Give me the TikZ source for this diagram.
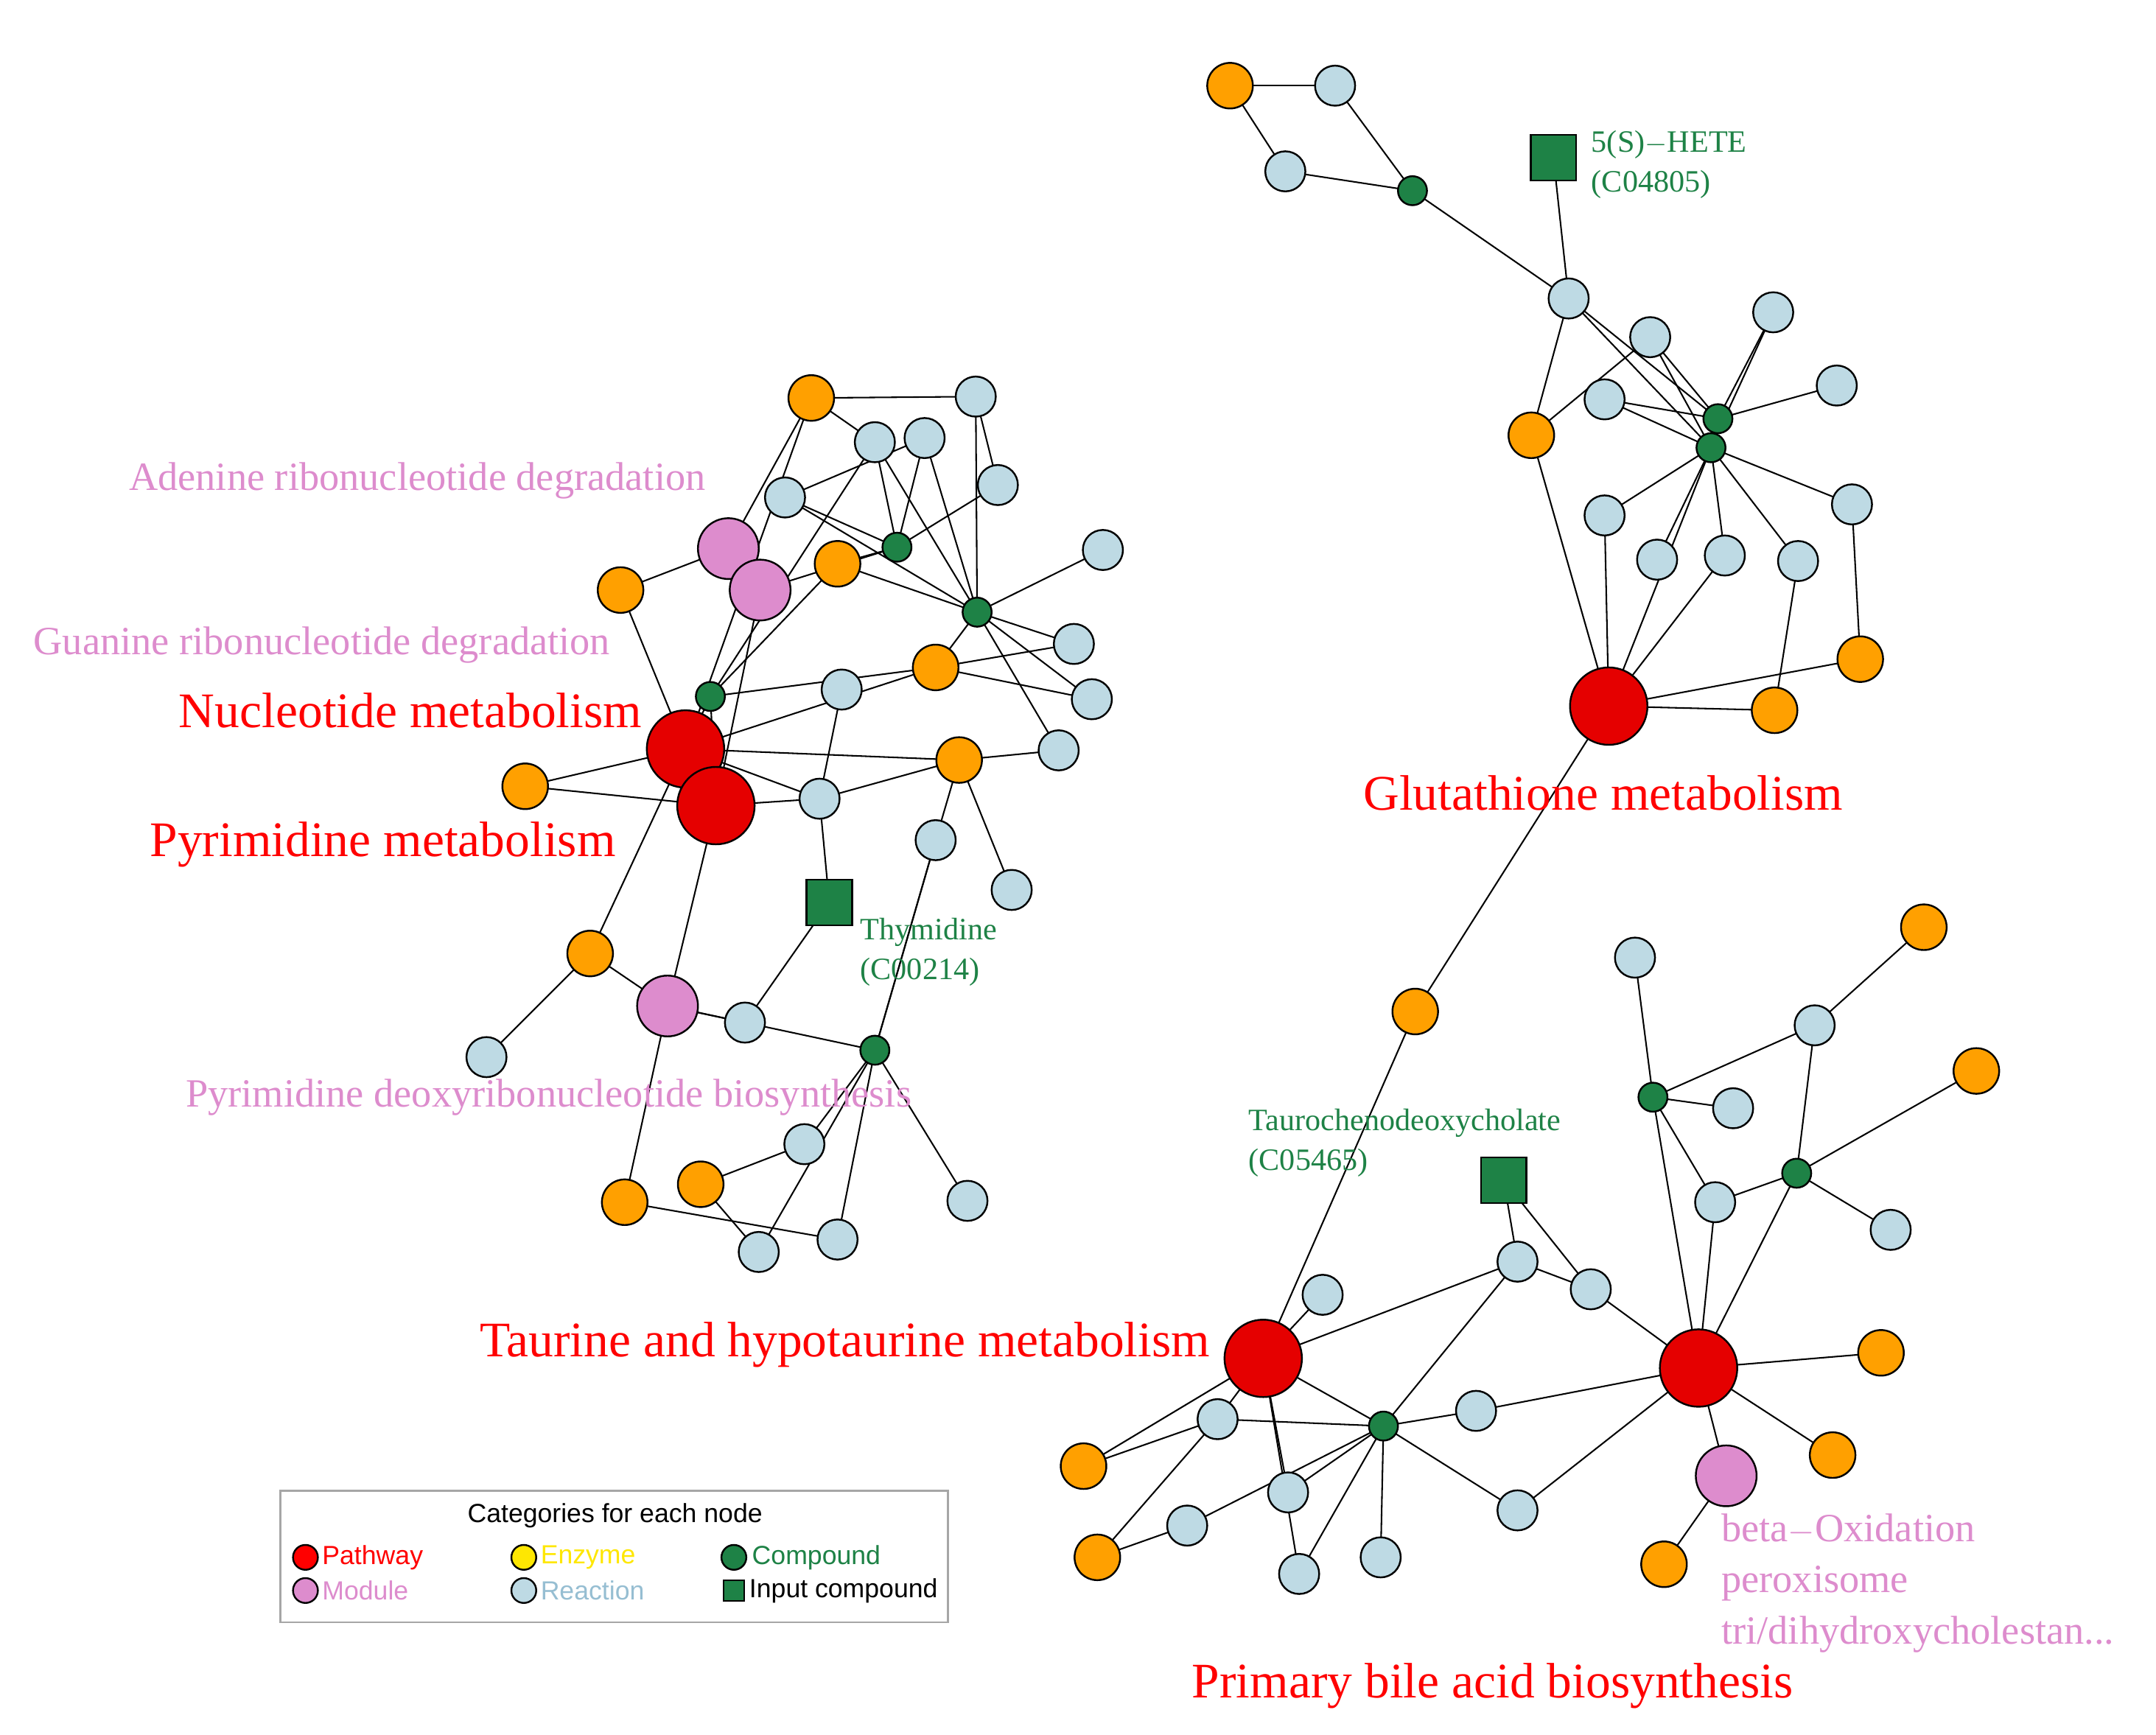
\documentclass[tikz,border=0pt]{standalone}
\usepackage{fontspec}
\setmainfont{Liberation Serif}
\newfontfamily\legfont{Liberation Sans}
\begin{document}
\begin{tikzpicture}[x=1pt,y=-1pt,
 base/.style={circle,draw=black,line width=1.3pt,inner sep=0pt},
 P/.style={base,fill=red!90!black,minimum size=56pt},
 M/.style={base,minimum size=44pt,fill={rgb,255:red,221;green,140;blue,205}},
 E/.style={base,fill={rgb,255:red,255;green,160;blue,0},minimum size=33pt},
 R/.style={base,fill={rgb,255:red,190;green,218;blue,228},minimum size=29pt},
 C/.style={base,fill={rgb,255:red,30;green,130;blue,70},minimum size=21pt},
 S/.style={rectangle,draw=black,line width=1.3pt,fill={rgb,255:red,30;green,130;blue,70},minimum size=33pt,inner sep=0pt},
 ed/.style={line width=1.1pt},
 plab/.style={text=red,font=\fontsize{36}{38}\selectfont},
 mlab/.style={text={rgb,255:red,221;green,140;blue,205},font=\fontsize{29}{37}\selectfont},
 clab/.style={text={rgb,255:red,30;green,130;blue,70},font=\fontsize{22.5}{29}\selectfont,align=left,anchor=west}]
\useasboundingbox (0,0) rectangle (1560,1255.5);
\foreach \n/\x/\y in {
o1/890/62,r1/966/62,r2/930/124,c1/1022/138,sq1/1124/114,r3/1135/216,r4/1194/244,r5/1283/226,r6/1161/289,r7/1329/279,c2/1243/303,c3/1238/324,o2/1108/315,r8/1161/373,r9/1340/365,r10/1199/405,r11/1248/402,r12/1301/406,pg/1164/511,o3/1346/477,o4/1284/514,
o5/587/288,r13/706/287,r14/633/320,r15/669/317,r16/722/351,r17/568/360,c4/649/396,m1/527/397,m2/550/427,o6/606/408,o7/449/427,r18/798/398,c5/707/443,r19/777/466,o8/677/483,r20/609/499,c6/514/504,r21/790/506,pn/496/542,r22/766/543,o9/694/550,pp/518/583,o10/380/569,r23/593/578,r24/677/608,sq2/600/653,r25/732/644,o11/427/690,m3/483/728,r26/539/740,c7/633/760,r27/352/765,r28/582/828,o12/452/870,o13/507/857,r29/700/869,r30/549/906,r31/606/897,
o14/1024/732,r32/1183/693,o15/1392/671,r33/1313/742,o16/1430/775,c8/1196/794,r34/1254/802,c9/1300/849,sq3/1088/854,r35/1241/870,r36/1368/890,r37/1098/913,r38/1151/933,r39/957/937,pt/914/983,pb/1229/990,o17/1361/979,r40/1068/1021,r41/881/1027,c10/1001/1032,o18/784/1061,o19/1326/1053,m4/1249/1068,r42/1098/1093,r43/932/1080,r44/859/1104,o20/794/1127,r45/940/1139,r46/999/1127,o21/1204/1132}
 \coordinate (\n) at (\x,\y);
\begin{scope}[ed]
\foreach \a/\b in {o1/r1,o1/r2,r1/c1,r2/c1,c1/r3,sq1/r3,r3/o2,r3/c2,r3/c3,r4/c3,r5/c3,r6/c2,r6/c3,r7/c2,c3/r8,c3/r9,c3/r10,c3/r11,c3/r12,c2/r4,c2/r5,o2/pg,r8/pg,c3/pg,r9/o3,pg/o3,pg/o4,r12/o4,r4/o2,r11/pg,
o5/r13,o5/r14,o5/m1,o5/pn,r13/c5,r14/c4,r15/c4,r15/c5,r14/c5,r16/c4,r17/c4,r17/c5,c4/o6,c4/m2,r18/c5,c5/r19,c5/r21,c5/r22,c5/o8,c5/o6,o8/r19,o8/r21,o8/pn,c6/o6,c6/r14,c6/pn,c6/pp,c6/o8,m1/o7,m2/pp,o7/pn,pn/o9,pn/r23,pn/o10,pp/o10,pp/r23,r23/o9,r23/r20,r23/sq2,o9/r22,o9/r25,o9/r24,r24/c7,pn/o11,pp/m3,o11/r27,o11/m3,m3/o12,m3/r26,m3/c7,sq2/r26,c7/r28,c7/r29,c7/r30,c7/r31,c7/r24,r28/o13,o12/r31,o13/r30,r16/r13,r17/r15,
o14/pg,o14/pt,r32/c8,c8/r33,r33/o15,c8/r34,c8/r35,c8/pb,c9/o16,c9/r33,c9/r35,c9/r36,c9/pb,r35/pb,sq3/r37,sq3/r38,r37/c10,r37/r38,r38/pb,pb/r40,pb/o17,pb/o19,pb/m4,pt/r39,pt/r41,pt/c10,pt/o18,pt/r43,c10/r40,c10/r41,c10/r42,c10/r43,c10/r44,c10/r45,c10/r46,r41/o18,r44/o20,r41/o20,r45/pt,r42/pb,m4/o21,r37/pt}
 \draw (\a) -- (\b);
\end{scope}
\foreach \n/\s in {o1/E,r1/R,r2/R,c1/C,sq1/S,r3/R,r4/R,r5/R,r6/R,r7/R,c2/C,c3/C,o2/E,r8/R,r9/R,r10/R,r11/R,r12/R,pg/P,o3/E,o4/E,
o5/E,r13/R,r14/R,r15/R,r16/R,r17/R,c4/C,m1/M,m2/M,o6/E,o7/E,r18/R,c5/C,r19/R,o8/E,r20/R,c6/C,r21/R,pn/P,r22/R,o9/E,pp/P,o10/E,r23/R,r24/R,sq2/S,r25/R,o11/E,m3/M,r26/R,c7/C,r27/R,r28/R,o12/E,o13/E,r29/R,r30/R,r31/R,
o14/E,r32/R,o15/E,r33/R,o16/E,c8/C,r34/R,c9/C,sq3/S,r35/R,r36/R,r37/R,r38/R,r39/R,pt/P,pb/P,o17/E,r40/R,r41/R,c10/C,o18/E,o19/E,m4/M,r42/R,r43/R,r44/R,o20/E,r45/R,r46/R,o21/E}
 \node[\s] (n\n) at (\n) {};
% labels
\node[clab] (l1) at (1148,119) {5(S)$-$HETE\\(C04805)};
\node[clab] (l2) at (619,689) {Thymidine\\(C00214)};
\node[clab] (l3) at (900,827) {Taurochenodeoxycholate\\(C05465)};
\node[plab,anchor=east] (l4) at (468,514) {Nucleotide metabolism};
\node[plab,anchor=east] (l5) at (449,611) {Pyrimidine metabolism};
\node[plab] (l6) at (1160,574) {Glutathione metabolism};
\node[plab,anchor=east] (l7) at (879,973) {Taurine and hypotaurine metabolism};
\node[plab] (l8) at (1080,1220) {Primary bile acid biosynthesis};
\node[mlab,anchor=east] (l9) at (514,348) {Adenine ribonucleotide degradation};
\node[mlab,anchor=east] (l10) at (445,467) {Guanine ribonucleotide degradation};
\node[mlab] (l11) at (397,794) {Pyrimidine deoxyribonucleotide biosynthesis};
\node[mlab,align=left,anchor=north west] (l12) at (1242,1092) {beta$-$Oxidation\\peroxisome\\tri/dihydroxycholestan...};
% legend
\draw[line width=1.5pt,draw=black!35,fill=white] (203,1079) rectangle (686,1174);
\begin{scope}[font=\legfont\fontsize{19}{22}\selectfont]
\node (lt) at (445,1097) {Categories for each node};
\node[base,fill=red,minimum size=18pt] (k1) at (221,1127) {};
\node[anchor=west,text=red,inner sep=1pt] (k1t) at (232,1127) {Pathway};
\node[base,fill=yellow!90!orange,minimum size=18pt] (k2) at (379,1127) {};
\node[anchor=west,text=yellow!90!orange,inner sep=1pt] (k2t) at (390,1127) {Enzyme};
\node[base,fill={rgb,255:red,30;green,130;blue,70},minimum size=18pt] (k3) at (531,1127) {};
\node[anchor=west,text={rgb,255:red,30;green,130;blue,70},inner sep=1pt] (k3t) at (543,1127) {Compound};
\node[base,fill={rgb,255:red,221;green,140;blue,205},minimum size=18pt] (k4) at (221,1151) {};
\node[anchor=west,text={rgb,255:red,221;green,140;blue,205},inner sep=1pt] (k4t) at (232,1151) {Module};
\node[base,fill={rgb,255:red,190;green,218;blue,228},minimum size=18pt] (k5) at (379,1151) {};
\node[anchor=west,text={rgb,255:red,150;green,190;blue,210},inner sep=1pt] (k5t) at (390,1151) {Reaction};
\node[S,minimum size=15pt] (k6) at (531,1151) {};
\node[anchor=west,inner sep=1pt] (k6t) at (541,1151) {Input compound};
\end{scope}
\end{tikzpicture}
\end{document}
